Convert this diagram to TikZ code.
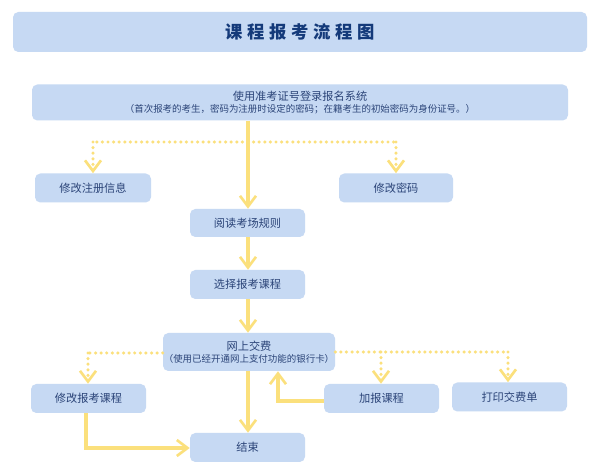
\documentclass[tikz,border=0pt]{standalone}
\usepackage{fontspec}
\setmainfont{Noto Sans CJK SC}
\usetikzlibrary{arrows.meta}
\definecolor{boxblue}{HTML}{C6D9F3}
\definecolor{txtblue}{HTML}{2B4478}
\definecolor{titleblue}{HTML}{143A7A}
\definecolor{flowyellow}{HTML}{FBE07C}
\tikzset{
  box/.style={draw=none,fill=boxblue,rounded corners=4pt,inner sep=0pt,
    text=txtblue,font=\fontsize{8.4}{10}\selectfont,align=center},
  tip/.style={-{Straight Barb[length=8pt,width=12pt,line width=2pt]}},
  flow/.style={draw=flowyellow,line width=2.4pt,tip},
  dotflow/.style={draw=flowyellow,line width=2.6pt,line cap=round,
    dash pattern=on 0pt off 4.2pt,tip},
  dotplain/.style={draw=flowyellow,line width=2.6pt,line cap=round,
    dash pattern=on 0pt off 4.2pt}
}
\begin{document}
\begin{tikzpicture}[x=0.75pt,y=-0.75pt]
\useasboundingbox[fill=white] (0,0) rectangle (600,473);
% title
\node[box,minimum width=574*0.75pt,minimum height=40*0.75pt,text=titleblue,
  font=\fontsize{13}{15}\selectfont\bfseries] (title) at (300,32)
  {课\hspace{3.5pt}程\hspace{3.5pt}报\hspace{3.5pt}考\hspace{3.5pt}流\hspace{3.5pt}程\hspace{3.5pt}图};
% nodes
\node[box,minimum width=536*0.75pt,minimum height=36*0.75pt] (login) at (300,102.5)
  {使用准考证号登录报名系统\\[-1pt]{\fontsize{7.1}{9}\selectfont（首次报考的考生，密码为注册时设定的密码；在籍考生的初始密码为身份证号。）}};
\node[box,minimum width=116*0.75pt,minimum height=29*0.75pt] (modinfo) at (93,188) {修改注册信息};
\node[box,minimum width=114*0.75pt,minimum height=29*0.75pt] (modpwd) at (396,188) {修改密码};
\node[box,minimum width=115*0.75pt,minimum height=28*0.75pt] (rules) at (247.5,223) {阅读考场规则};
\node[box,minimum width=115*0.75pt,minimum height=29*0.75pt] (select) at (247.5,284.5) {选择报考课程};
\node[box,minimum width=172*0.75pt,minimum height=38*0.75pt] (pay) at (249,352)
  {网上交费\\[-1pt]{\fontsize{7.1}{9}\selectfont（使用已经开通网上支付功能的银行卡）}};
\node[box,minimum width=115*0.75pt,minimum height=29*0.75pt] (modcourse) at (88.5,398.5) {修改报考课程};
\node[box,minimum width=115*0.75pt,minimum height=29*0.75pt] (addcourse) at (381.5,398.5) {加报课程};
\node[box,minimum width=115*0.75pt,minimum height=29*0.75pt] (print) at (509.5,397) {打印交费单};
\node[box,minimum width=115*0.75pt,minimum height=29*0.75pt] (finish) at (247.5,447.5) {结束};
% main flow
\coordinate (b1) at (248,142);
\coordinate (b1l) at (93,142);
\coordinate (b1r) at (396,142);
\draw[dotplain] (b1) -- (b1l);
\draw[dotplain] (b1) -- (b1r);
\draw[dotflow] (b1l) -- (modinfo.north);
\draw[dotflow] (b1r) -- (modpwd.north);
\draw[flow] (login.south -| b1) -- (rules.north -| b1);
\draw[flow] (rules.south -| b1) -- (select.north -| b1);
\draw[flow] (select.south -| b1) -- (pay.north -| b1);
\draw[flow] (pay.south -| b1) -- (finish.north -| b1);
% payment branches
\coordinate (pl) at (pay.west |- 0,353);
\coordinate (pll) at (88,353);
\coordinate (pr) at (pay.east |- 0,352);
\coordinate (prr) at (508,352);
\coordinate (prm) at (381,352);
\draw[dotplain] (pl) -- (pll);
\draw[dotflow] (pll) -- (modcourse.north -| pll);
\draw[dotplain] (pr) -- (prr);
\draw[dotflow] (prr) -- (print.north -| prr);
\draw[dotflow] (prm) -- (addcourse.north -| prm);
\draw[flow] (addcourse.west |- 0,401) -- (278,401) -- (pay.south -| 278,0);
\draw[flow] (modcourse.south -| 86,0) -- (86,448) -- (finish.west |- 0,448);
\end{tikzpicture}
\end{document}
